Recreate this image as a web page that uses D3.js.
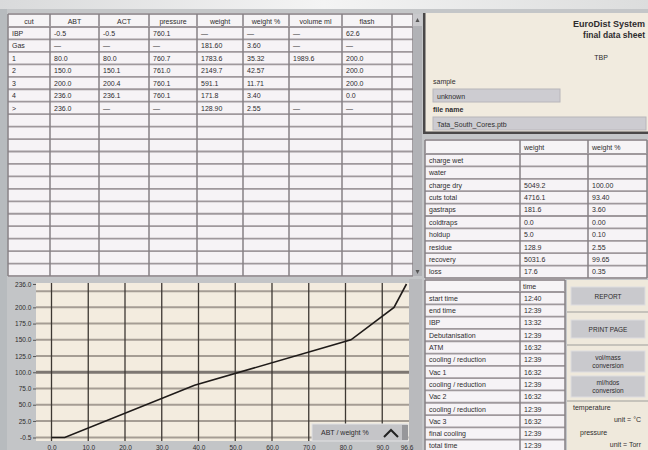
<!DOCTYPE html>
<html>
<head>
<meta charset="UTF-8">
<style>
body { margin: 0; background: #c5c7c9; }
text { font-family: "Liberation Sans", Arial, sans-serif; fill: #2e2c2e; }
</style>
</head>
<body>
<svg id="sheet"></svg>
<script src="https://d3js.org/d3.v7.min.js"></script>
<script>
// ---- cut table ----
let cutHeaders = ["cut", "ABT", "ACT", "pressure", "weight", "weight %", "volume ml", "flash", ""];
let cuts = ["IBP", "Gas", "1", "2", "3", "4", ">"];
let abt = ["-0.5", "\u2014", "80.0", "150.0", "200.0", "236.0", "236.0"];
let act = ["-0.5", "\u2014", "80.0", "150.1", "200.4", "236.1", "\u2014"];
let pressure = ["760.1", "\u2014", "760.7", "761.0", "760.1", "760.1", "\u2014"];
let weight = ["\u2014", "181.60", "1783.6", "2149.7", "591.1", "171.8", "128.90"];
let weightPct = ["\u2014", "3.60", "35.32", "42.57", "11.71", "3.40", "2.55"];
let volume = ["\u2014", "\u2014", "1989.6", "", "", "", "\u2014"];
let flash = ["62.6", "\u2014", "200.0", "200.0", "200.0", "0.0", "\u2014"];

// ---- balance table ----
let balanceLabels = ["charge wet", "water", "charge dry", "cuts total", "gastraps", "coldtraps", "holdup", "residue", "recovery", "loss"];
let balanceWeight = ["", "", "5049.2", "4716.1", "181.6", "0.0", "5.0", "128.9", "5031.6", "17.6"];
let balancePct = ["", "", "100.00", "93.40", "3.60", "0.00", "0.10", "2.55", "99.65", "0.35"];

// ---- time table ----
let timeLabels = ["start time", "end time", "IBP", "Debutanisation", "ATM", "cooling / reduction", "Vac 1",
    "cooling / reduction", "Vac 2", "cooling / reduction", "Vac 3", "final cooling", "total time"];
let timeValues = ["12:40", "12:39", "13:32", "12:39", "16:32", "12:39", "16:32", "12:39", "16:32", "12:39", "16:32", "12:39", "12:39"];

// ---- curve: cumulative weight % vs ABT ----
let curveWeight = [0, 3.60, 38.92, 81.49, 93.20, 96.60];
let curveABT = [-0.5, -0.5, 80.0, 150.0, 200.0, 236.0];
let xTickValues = [0, 10, 20, 30, 40, 50, 60, 70, 80, 90, 96.6];
let yLabelValues = [-0.5, 25, 50, 75, 100, 125, 150, 175, 200, 236];
let yGridValues = [25, 50, 75, 100, 125, 150, 175, 200, 225];

let width = 648, height = 450;
let svg = d3.select("#sheet").attr("width", width).attr("height", height);
let fmt = d => d.toFixed(1);

let grad = svg.append("defs").append("linearGradient").attr("id", "topg").attr("x1", 0).attr("x2", 1);
grad.append("stop").attr("offset", "0%").attr("stop-color", "#d9dadb");
grad.append("stop").attr("offset", "50%").attr("stop-color", "#f4f4f4");
grad.append("stop").attr("offset", "100%").attr("stop-color", "#dcdddd");

svg.append("rect").attr("width", width).attr("height", height).attr("fill", "#c4c6c8");
svg.append("rect").attr("width", width).attr("height", 9).attr("fill", "url(#topg)");
svg.append("rect").attr("x", 0).attr("y", 9).attr("width", 7).attr("height", 441).attr("fill", "#b7bbbe");

// generic grid table helper
function drawTable(g, colEdges, rowScale, cellFill) {
    g.append("rect")
        .attr("x", colEdges[0]).attr("y", rowScale.range()[0])
        .attr("width", colEdges[colEdges.length - 1] - colEdges[0])
        .attr("height", rowScale.range()[1] - rowScale.range()[0])
        .attr("fill", cellFill);
    g.selectAll(".hl").data(rowScale.domain().concat([rowScale.domain().length]))
        .enter().append("line")
        .attr("x1", colEdges[0]).attr("x2", colEdges[colEdges.length - 1])
        .attr("y1", d => rowScale.range()[0] + d * rowScale.step())
        .attr("y2", d => rowScale.range()[0] + d * rowScale.step())
        .attr("stroke", "#9f999d").attr("stroke-width", 1.8);
    g.selectAll(".vl").data(colEdges).enter().append("line")
        .attr("x1", d => d).attr("x2", d => d)
        .attr("y1", rowScale.range()[0]).attr("y2", rowScale.range()[1])
        .attr("stroke", "#868084").attr("stroke-width", 1.5);
}

// ---- main cut table ----
let cutCols = [8, 50, 99, 149, 197, 243, 289, 342, 392, 413];
let cutHead = svg.append("g");
let headRow = d3.scaleBand().domain([0]).range([14, 27]);
drawTable(cutHead, cutCols, headRow, "#f6f4f6");
cutHead.selectAll("text").data(cutHeaders).enter().append("text")
    .attr("x", (d, i) => (cutCols[i] + cutCols[i + 1]) / 2)
    .attr("y", 23.5).attr("text-anchor", "middle").attr("font-size", 7).text(d => d);

let cutRows = d3.scaleBand().domain(d3.range(20)).range([27, 276]);
let cutBody = svg.append("g");
drawTable(cutBody, cutCols, cutRows, "#f6f3f6");
let cutColumns = [cuts, abt, act, pressure, weight, weightPct, volume, flash];
cutColumns.forEach((col, ci) => {
    cutBody.append("g").selectAll("text").data(col).enter().append("text")
        .attr("x", cutCols[ci] + 4)
        .attr("y", (d, i) => cutRows(i) + cutRows.bandwidth() / 2 + 2.6)
        .attr("font-size", 7).text(d => d);
});

// scrollbar of the cut table
svg.append("rect").attr("x", 413).attr("y", 14).attr("width", 9).attr("height", 262).attr("fill", "#b1b2b6");
svg.append("rect").attr("x", 413).attr("y", 14).attr("width", 9).attr("height", 12).attr("fill", "#c9c9cc");
svg.append("path").attr("d", "M415.5,22 L417.5,18 L419.5,22 Z").attr("fill", "#555");
svg.append("path").attr("d", "M415.5,270 L417.5,274 L419.5,270 Z").attr("fill", "#555");

// ---- header panel ----
svg.append("rect").attr("x", 423).attr("y", 13).attr("width", 225).attr("height", 121).attr("fill", "#f1ebdf");
svg.append("rect").attr("x", 423).attr("y", 13).attr("width", 2.5).attr("height", 121).attr("fill", "#4a4848");
svg.append("rect").attr("x", 423).attr("y", 131.5).attr("width", 225).attr("height", 2.5).attr("fill", "#4a4848");
svg.append("text").attr("x", 645).attr("y", 27).attr("text-anchor", "end")
    .attr("font-size", 9).attr("font-weight", "bold").text("EuroDist System");
svg.append("text").attr("x", 645).attr("y", 38).attr("text-anchor", "end")
    .attr("font-size", 8.5).attr("font-weight", "bold").text("final data sheet");
svg.append("text").attr("x", 601).attr("y", 60).attr("text-anchor", "middle").attr("font-size", 7).text("TBP");
svg.append("text").attr("x", 433).attr("y", 84).attr("font-size", 7).text("sample");
svg.append("rect").attr("x", 433).attr("y", 89).attr("width", 127).attr("height", 13)
    .attr("fill", "#cdccd1").attr("stroke", "#b8b6ba");
svg.append("text").attr("x", 437).attr("y", 98.5).attr("font-size", 7).text("unknown");
svg.append("text").attr("x", 433).attr("y", 112).attr("font-size", 7).attr("font-weight", "bold").text("file name");
svg.append("rect").attr("x", 433).attr("y", 117).attr("width", 213).attr("height", 13)
    .attr("fill", "#cdccd1").attr("stroke", "#b8b6ba");
svg.append("text").attr("x", 437).attr("y", 126.5).attr("font-size", 7).text("Tata_South_Cores.ptb");

// ---- balance table ----
let balCols = [425, 520, 588, 647];
let balHead = svg.append("g");
drawTable(balHead, balCols, d3.scaleBand().domain([0]).range([140, 154]), "#f6f4f6");
balHead.selectAll("text").data(["", "weight", "weight %"]).enter().append("text")
    .attr("x", (d, i) => balCols[i] + 4).attr("y", 149.5).attr("font-size", 7).text(d => d);
let balRows = d3.scaleBand().domain(d3.range(10)).range([154, 278]);
let balBody = svg.append("g");
drawTable(balBody, balCols, balRows, "#f6f3f6");
[balanceLabels, balanceWeight, balancePct].forEach((col, ci) => {
    balBody.append("g").selectAll("text").data(col).enter().append("text")
        .attr("x", balCols[ci] + 4)
        .attr("y", (d, i) => balRows(i) + balRows.bandwidth() / 2 + 2.6)
        .attr("font-size", 7).text(d => d);
});

// ---- time table ----
let timeCols = [425, 520, 565];
let timeHead = svg.append("g");
drawTable(timeHead, timeCols, d3.scaleBand().domain([0]).range([280, 292]), "#f6f4f6");
timeHead.append("text").attr("x", 523).attr("y", 288.5).attr("font-size", 7).text("time");
let timeRows = d3.scaleBand().domain(d3.range(13)).range([292, 452]);
let timeBody = svg.append("g");
drawTable(timeBody, timeCols, timeRows, "#f6f3f6");
[timeLabels, timeValues].forEach((col, ci) => {
    timeBody.append("g").selectAll("text").data(col).enter().append("text")
        .attr("x", timeCols[ci] + 4)
        .attr("y", (d, i) => timeRows(i) + timeRows.bandwidth() / 2 + 2.6)
        .attr("font-size", 7).text(d => d);
});

// ---- button panel ----
svg.append("rect").attr("x", 567).attr("y", 280).attr("width", 81).attr("height", 170).attr("fill", "#efe9dc");
[312, 345, 401].forEach(y => {
    svg.append("line").attr("x1", 567).attr("x2", 648).attr("y1", y).attr("y2", y)
        .attr("stroke", "#b9b6b0").attr("stroke-width", 1.5);
});
let buttons = [
    { y: 287, h: 18, lines: ["REPORT"] },
    { y: 320, h: 18, lines: ["PRINT PAGE"] },
    { y: 351, h: 21, lines: ["vol/mass", "conversion"] },
    { y: 376, h: 21, lines: ["ml/hdos", "conversion"] }
];
buttons.forEach(b => {
    svg.append("rect").attr("x", 571).attr("y", b.y).attr("width", 74).attr("height", b.h)
        .attr("fill", "#c9c9cd").attr("stroke", "#dedde0").attr("stroke-width", 1);
    b.lines.forEach((t, i) => {
        svg.append("text").attr("x", 608)
            .attr("y", b.y + b.h / 2 + 2.5 + (i - (b.lines.length - 1) / 2) * 7.5)
            .attr("text-anchor", "middle").attr("font-size", 6.5).text(t);
    });
});
svg.append("text").attr("x", 573).attr("y", 410).attr("font-size", 7).text("temperature");
svg.append("text").attr("x", 641).attr("y", 422).attr("text-anchor", "end").attr("font-size", 7).text("unit =  \u00B0C");
svg.append("text").attr("x", 580).attr("y", 435).attr("font-size", 7).text("pressure");
svg.append("text").attr("x", 641).attr("y", 447).attr("text-anchor", "end").attr("font-size", 7).text("unit =  Torr");

// ---- chart ----
svg.append("rect").attr("x", 7).attr("y", 279).attr("width", 415).attr("height", 171).attr("fill", "#c3c5c7");
svg.append("rect").attr("x", 409).attr("y", 279).attr("width", 13).attr("height", 171).attr("fill", "#b9babd");
svg.append("rect").attr("x", 36).attr("y", 283).attr("width", 373).attr("height", 158).attr("fill", "#f3ecdf");

let x = d3.scaleLinear().domain([0, 96.6]).range([51.5, 406.5]);
let y = d3.scaleLinear().domain([-0.5, 236]).range([437.5, 284]);

// horizontal grid
svg.append("g").selectAll("line").data(yGridValues.concat([-0.5])).enter().append("line")
    .attr("x1", 36).attr("x2", 409)
    .attr("y1", d => y(d)).attr("y2", d => y(d))
    .attr("stroke", d => d === 100 ? "#7d7772" : "#a59d94")
    .attr("stroke-width", d => d === 100 ? 3 : 2);

// vertical grid
svg.append("g").selectAll("line").data(xTickValues.slice(0, 10)).enter().append("line")
    .attr("x1", d => x(d)).attr("x2", d => x(d))
    .attr("y1", 283).attr("y2", 441)
    .attr("stroke", "#3d3833").attr("stroke-width", 1.3);

// axes labels
let yAxis = svg.append("g").attr("transform", "translate(36,0)")
    .call(d3.axisLeft(y).tickValues(yLabelValues).tickFormat(fmt).tickSize(3));
yAxis.select(".domain").remove();
yAxis.selectAll("line").attr("stroke", "#555");
yAxis.selectAll("text").attr("font-size", 6.5).attr("dx", "0.2em").style("font-family", "Liberation Sans, Arial");

let xAxis = svg.append("g").attr("transform", "translate(0,441)")
    .call(d3.axisBottom(x).tickValues(xTickValues).tickFormat(fmt).tickSize(0));
xAxis.select(".domain").remove();
xAxis.selectAll("text").attr("font-size", 6.5).attr("dy", "0.9em").style("font-family", "Liberation Sans, Arial");

// curve
let line = d3.line().x(d => x(d[0])).y(d => y(d[1]));
svg.append("path").datum(d3.zip(curveWeight, curveABT))
    .attr("d", line).attr("fill", "none").attr("stroke", "#1f1b19").attr("stroke-width", 1.6);

// axis selector button
svg.append("rect").attr("x", 312).attr("y", 424).attr("width", 96).attr("height", 17)
    .attr("fill", "#c5c5c8").attr("stroke", "#e2e2e4");
svg.append("rect").attr("x", 402).attr("y", 425).attr("width", 6).attr("height", 15).attr("fill", "#97979a");
svg.append("text").attr("x", 321).attr("y", 435).attr("font-size", 7).text("ABT / weight %");
svg.append("path").attr("d", "M384,437 L391,430 L398,437").attr("fill", "none")
    .attr("stroke", "#222").attr("stroke-width", 2);
</script>
</body>
</html>
